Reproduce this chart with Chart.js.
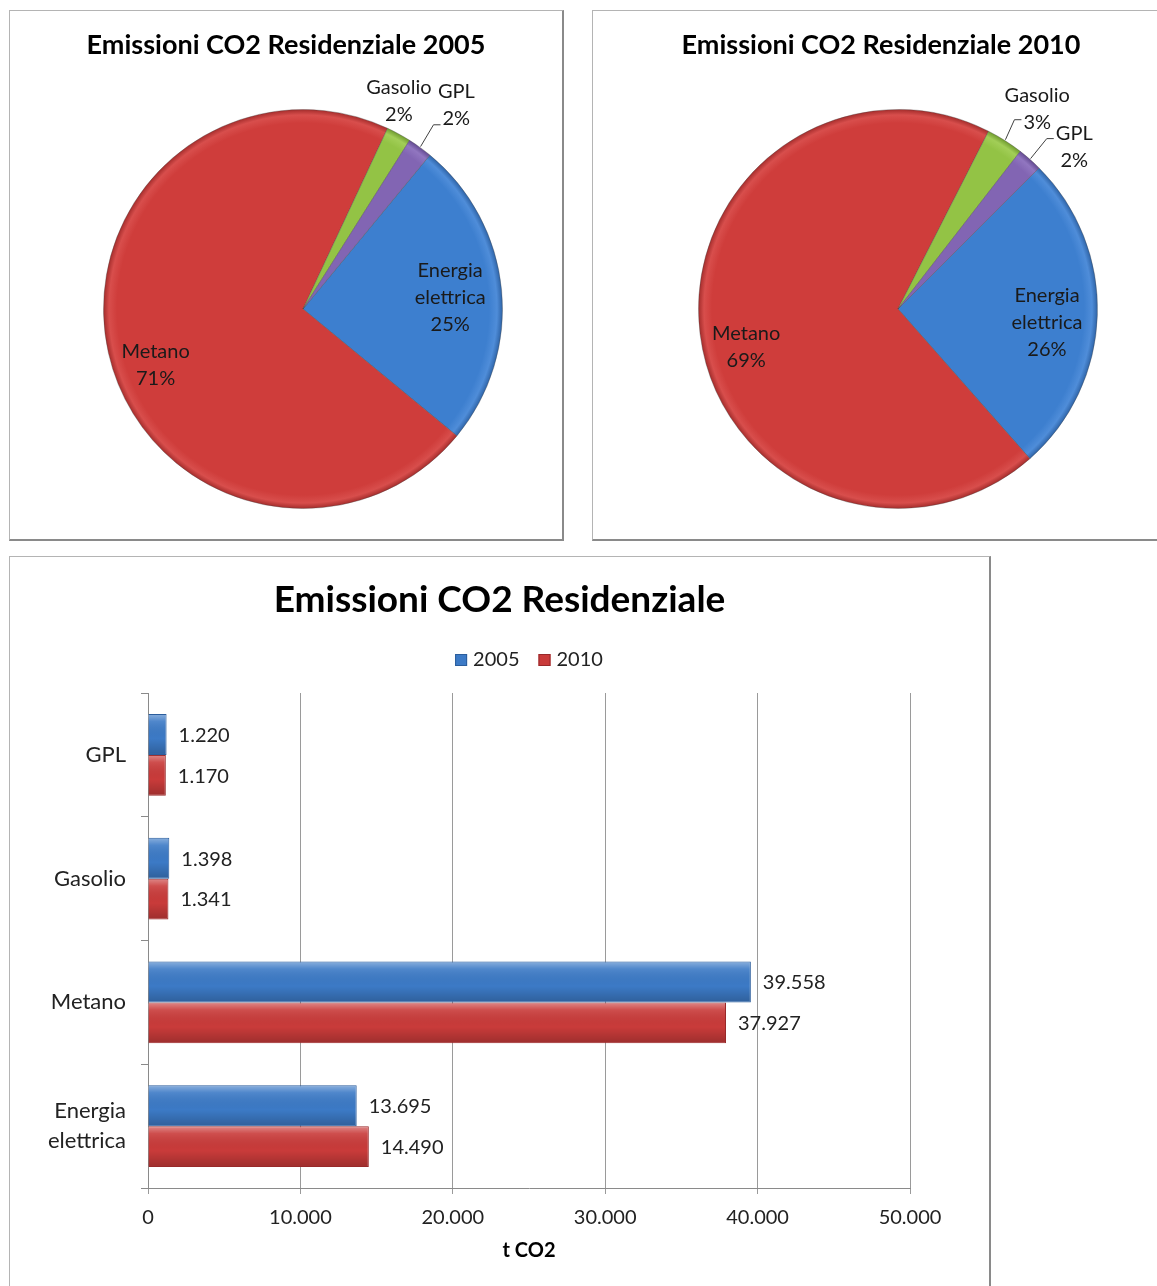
<!DOCTYPE html>
<html>
<head>
<meta charset="utf-8">
<script src="https://cdn.jsdelivr.net/npm/chart.js@4.4.1/dist/chart.umd.min.js"></script>
<style>
body { margin: 0; background: #fff; overflow: hidden; width: 1157px; height: 1286px; position: relative; font-family: Lato, sans-serif; }
.box { position: absolute; background: #fff; border-top: 1px solid #b4b4b4; border-left: 1px solid #b4b4b4; border-right: 2px solid #8a8a8a; border-bottom: 2px solid #8a8a8a; }
#box2005 { left: 9px; top: 10px; width: 552px; height: 528px; }
#box2010 { left: 592px; top: 10px; width: 576px; height: 528px; }
#boxBar { left: 9px; top: 556px; width: 979px; height: 740px; }
canvas { display: block; }
</style>
</head>
<body>
<div class="box" id="box2005"><canvas id="pie2005" width="552" height="528"></canvas></div>
<div class="box" id="box2010"><canvas id="pie2010" width="576" height="528"></canvas></div>
<div class="box" id="boxBar"><canvas id="barChart" width="979" height="740"></canvas></div>
<script>
// pie slices (percent shares as printed on the pies)
const pieCategories = ['Energia elettrica', 'Metano', 'Gasolio', 'GPL'];
const pieShare2005 = [25, 71, 2, 2];
const pieShare2010 = [26, 69, 3, 2];

// bar chart, categories top to bottom
const barCategories = ['GPL', 'Gasolio', 'Metano', 'Energia elettrica'];
const bar2005 = [1220, 1398, 39558, 13695];
const bar2010 = [1170, 1341, 37927, 14490];
const xTicks = [0, 10000, 20000, 30000, 40000, 50000];

const piePalette = [
    ['#3d7fcf', '#4f8dd9', '#2b60a3'],
    ['#cf3d3b', '#d84e4c', '#a12a29'],
    ['#93c345', '#a2ce57', '#6b972b'],
    ['#8265b3', '#9176c0', '#5f468e']
];

function fmt(v) {
    return String(v).replace(/\B(?=(\d{3})+(?!\d))/g, '.');
}

function radialShade(c) {
    const a = c.chart.chartArea;
    const col = piePalette[c.dataIndex];
    if (!a) return col[0];
    const cx = (a.left + a.right) / 2;
    const cy = (a.top + a.bottom) / 2;
    const r = Math.min(a.right - a.left, a.bottom - a.top) / 2;
    const g = c.chart.ctx.createRadialGradient(cx, cy, 0, cx, cy, r);
    g.addColorStop(0, col[0]);
    g.addColorStop(0.93, col[0]);
    g.addColorStop(0.97, col[1]);
    g.addColorStop(1, col[2]);
    return g;
}

const boxTitle = {
    id: 'boxTitle',
    afterDraw(chart, args, opts) {
        const ctx = chart.ctx;
        ctx.save();
        ctx.font = opts.font;
        ctx.fillStyle = '#000';
        ctx.textAlign = 'center';
        ctx.textBaseline = 'middle';
        ctx.fillText(opts.text, chart.width / 2, opts.y);
        ctx.restore();
    }
};

const pieLabels = {
    id: 'pieLabels',
    afterDatasetsDraw(chart, args, opts) {
        const ctx = chart.ctx;
        const data = chart.data.datasets[0].data;
        ctx.save();
        ctx.font = '20px Lato';
        ctx.fillStyle = '#1a1a1a';
        ctx.textAlign = 'center';
        ctx.textBaseline = 'middle';
        chart.getDatasetMeta(0).data.forEach(function (arc, i) {
            const p = arc.getProps(['x', 'y', 'startAngle', 'endAngle', 'outerRadius']);
            const mid = (p.startAngle + p.endAngle) / 2;
            const place = opts.places[i];
            const ang = mid + place[1] * Math.PI / 180;
            const lx = p.x + Math.cos(ang) * p.outerRadius * place[0];
            const ly = p.y + Math.sin(ang) * p.outerRadius * place[0];
            const lines = chart.data.labels[i].split(' ');
            lines.push(data[i] + '%');
            const lh = 27;
            const top = ly - (lines.length - 1) * lh / 2;
            lines.forEach(function (t, k) {
                ctx.fillText(t, lx, top + k * lh);
            });
            if (opts.leaders[i]) {
                const sx = p.x + Math.cos(mid) * (p.outerRadius + 1);
                const sy = p.y + Math.sin(mid) * (p.outerRadius + 1);
                const ey = Math.min(Math.max(sy - 20, ly - 10), ly + 20);
                // attach to the text row closest to the line end
                let row = Math.round((ey - top) / lh);
                row = Math.max(0, Math.min(lines.length - 1, row));
                const ex = lx - ctx.measureText(lines[row]).width / 2 - 2;
                ctx.strokeStyle = '#404040';
                ctx.lineWidth = 1;
                ctx.beginPath();
                ctx.moveTo(sx, sy);
                ctx.lineTo(ex - 7, ey);
                ctx.lineTo(ex, ey);
                ctx.stroke();
            }
        });
        ctx.restore();
    }
};

function makePie(id, title, shares, rotation, pad, places, leaders) {
    return new Chart(document.getElementById(id), {
        type: 'pie',
        data: {
            labels: pieCategories,
            datasets: [{
                data: shares,
                backgroundColor: radialShade,
                borderColor: 'rgba(70,70,70,0.35)',
                borderWidth: 1
            }]
        },
        options: {
            responsive: false,
            animation: false,
            rotation: rotation,
            layout: { padding: pad },
            plugins: {
                legend: { display: false },
                tooltip: { enabled: false },
                boxTitle: { text: title, font: 'bold 27px Lato', y: 34 },
                pieLabels: { places: places, leaders: leaders }
            }
        },
        plugins: [boxTitle, pieLabels]
    });
}

makePie('pie2005', 'Emissioni CO2 Residenziale 2005', pieShare2005, 39.5,
    { left: 93, right: 59, top: 98, bottom: 30 },
    [[0.74, 1], [0.79, -8], [1.15, -4], [1.28, 1]],
    [false, false, false, true]);

makePie('pie2010', 'Emissioni CO2 Residenziale 2010', pieShare2010, 45,
    { left: 105, right: 71, top: 98, bottom: 30 },
    [[0.75, 3.5], [0.785, -7], [1.22, 2.5], [1.2, 6]],
    [false, false, true, true]);

const barLegend = {
    id: 'barLegend',
    afterDraw(chart, args, opts) {
        const ctx = chart.ctx;
        const area = chart.chartArea;
        const box = 12, gap = 6, space = 19;
        ctx.save();
        ctx.font = '20px Lato';
        ctx.textBaseline = 'middle';
        ctx.textAlign = 'left';
        const items = chart.data.datasets.map(function (ds) {
            return { text: ds.label, color: ds.backgroundColor, border: ds.borderColor, w: ctx.measureText(ds.label).width };
        });
        let total = 0;
        items.forEach(function (it, k) { total += box + gap + it.w + (k ? space : 0); });
        let x = (area.left + area.right) / 2 - total / 2;
        items.forEach(function (it) {
            ctx.fillStyle = it.color;
            ctx.fillRect(x, opts.y - box / 2, box, box);
            ctx.strokeStyle = it.border;
            ctx.lineWidth = 1;
            ctx.strokeRect(x + 0.5, opts.y - box / 2 + 0.5, box - 1, box - 1);
            ctx.fillStyle = '#222';
            ctx.fillText(it.text, x + box + gap, opts.y);
            x += box + gap + it.w + space;
        });
        ctx.restore();
    }
};

const barShade = {
    id: 'barShade',
    afterDatasetsDraw(chart) {
        const ctx = chart.ctx;
        ctx.save();
        chart.data.datasets.forEach(function (ds, di) {
            chart.getDatasetMeta(di).data.forEach(function (bar, i) {
                const p = bar.getProps(['x', 'y', 'base', 'height']);
                const top = p.y - p.height / 2;
                const g = ctx.createLinearGradient(0, top, 0, top + p.height);
                g.addColorStop(0, 'rgba(255,255,255,0.4)');
                g.addColorStop(0.18, 'rgba(255,255,255,0.1)');
                g.addColorStop(0.6, 'rgba(0,0,0,0)');
                g.addColorStop(1, 'rgba(0,0,0,0.22)');
                ctx.fillStyle = g;
                ctx.fillRect(p.base, top + 1, p.x - p.base - 1, p.height - 2);
                ctx.font = '20px Lato';
                ctx.fillStyle = '#222';
                ctx.textAlign = 'left';
                ctx.textBaseline = 'middle';
                ctx.fillText(fmt(ds.data[i]), p.x + 12, p.y + 1);
            });
        });
        ctx.restore();
    }
};

new Chart(document.getElementById('barChart'), {
    type: 'bar',
    data: {
        labels: barCategories.map(function (c) { return c.split(' '); }),
        datasets: [
            { label: '2005', data: bar2005, backgroundColor: '#3c7ac6', borderColor: '#2b5d9c', borderWidth: 1, barPercentage: 1, categoryPercentage: 0.66 },
            { label: '2010', data: bar2010, backgroundColor: '#c93b3a', borderColor: '#98292a', borderWidth: 1, barPercentage: 1, categoryPercentage: 0.66 }
        ]
    },
    options: {
        indexAxis: 'y',
        responsive: false,
        animation: false,
        layout: { padding: { top: 136, right: 79, bottom: 30, left: 0 } },
        scales: {
            x: {
                min: xTicks[0],
                max: xTicks[xTicks.length - 1],
                ticks: {
                    stepSize: xTicks[1] - xTicks[0],
                    color: '#222',
                    font: { family: 'Lato', size: 20 },
                    padding: 12,
                    maxRotation: 0,
                    callback: function (v) { return fmt(v); }
                },
                grid: { color: '#9a9a9a', tickLength: 6 },
                border: { color: '#8a8a8a' },
                title: { display: true, text: 't CO2', color: '#000', font: { family: 'Lato', size: 20, weight: 'bold' }, padding: { top: 4, bottom: 4 } },
                afterFit: function (s) { s.height = 79; }
            },
            y: {
                ticks: { color: '#222', font: { family: 'Lato', size: 22, lineHeight: 1.36 }, padding: 15 },
                grid: { offset: true, drawOnChartArea: false, tickLength: 7, color: '#8a8a8a' },
                border: { color: '#8a8a8a' },
                afterFit: function (s) { s.width = 138; }
            }
        },
        plugins: {
            legend: { display: false },
            tooltip: { enabled: false },
            boxTitle: { text: 'Emissioni CO2 Residenziale', font: 'bold 37px Lato', y: 43 },
            barLegend: { y: 103 }
        }
    },
    plugins: [boxTitle, barLegend, barShade]
});
</script>
</body>
</html>
